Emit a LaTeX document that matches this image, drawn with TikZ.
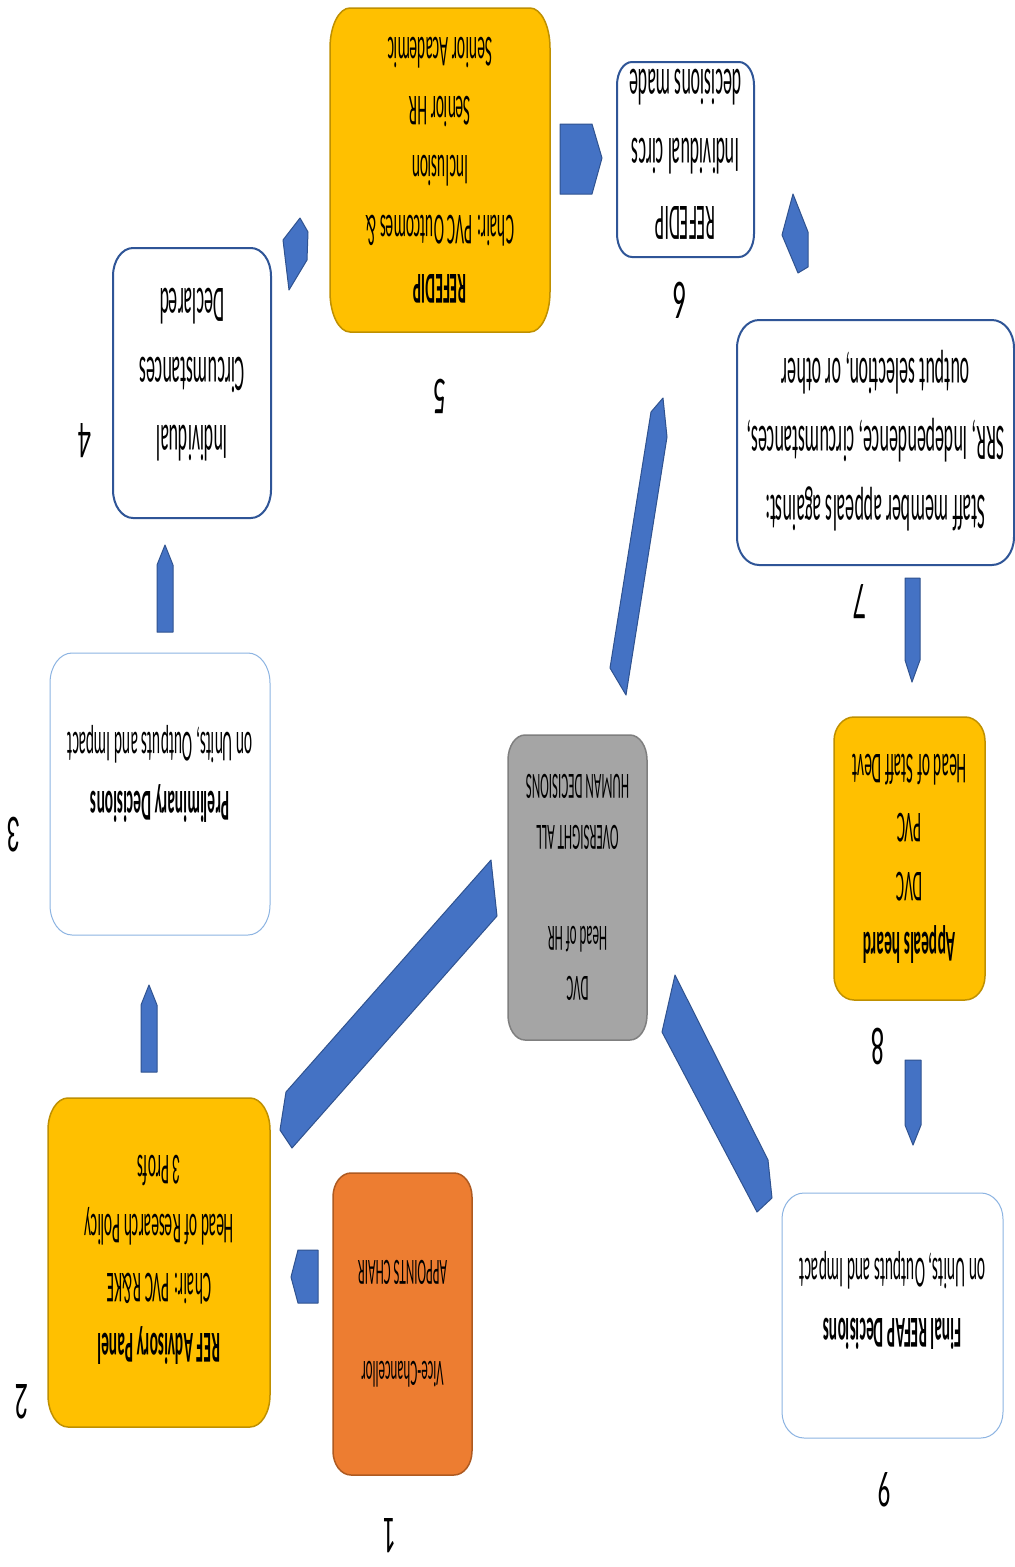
\documentclass[tikz,border=0pt]{standalone}
\usepackage{fontspec}
\setmainfont{Carlito}
\usetikzlibrary{fit,calc}

\definecolor{gold}{HTML}{FFC000}
\definecolor{goldline}{HTML}{BF9000}
\definecolor{orangefill}{HTML}{ED7D31}
\definecolor{orangeline}{HTML}{AE5A21}
\definecolor{grayfill}{HTML}{A5A5A5}
\definecolor{grayline}{HTML}{7F7F7F}
\definecolor{navyline}{HTML}{2F5597}
\definecolor{skyline}{HTML}{8DB4E2}
\definecolor{arrowfill}{HTML}{4472C4}
\definecolor{arrowline}{HTML}{2F528F}

\tikzset{
  goldbox/.style={fill=gold, draw=goldline, line width=1.5pt},
  orangebox/.style={fill=orangefill, draw=orangeline, line width=1.5pt},
  graybox/.style={fill=grayfill, draw=grayline, line width=1.5pt},
  navybox/.style={fill=white, draw=navyline, line width=2pt},
  skybox/.style={fill=white, draw=skyline, line width=1pt},
  flip/.style={xscale=-1, inner sep=0pt, align=center},
  txtM/.style={flip, yscale=-2.85, font=\fontsize{15.5}{20.8}\selectfont},
  txtL/.style={flip, yscale=-2.85, font=\fontsize{18}{24}\selectfont},
  txtS/.style={flip, yscale=-2.85, font=\fontsize{13}{17.7}\selectfont},
  num/.style={flip, yscale=-2.05, font=\fontsize{26}{30}\selectfont},
  blockarrow/.style={fill=arrowfill, draw=arrowline, line width=1pt, line join=round},
}

% \panel{name}{x1}{y1}{x2}{y2}{rx}{ry}{style}: box with elliptic corners
\newcommand\panel[8]{%
  \coordinate (#1-nw) at (#2,#3);
  \coordinate (#1-se) at (#4,#5);
  \node[inner sep=0pt, outer sep=0pt, fit=(#1-nw)(#1-se)] (#1) {};
  \draw[#8] ({#2+#6},#3) -- ({#4-#6},#3)
    arc[start angle=90, end angle=0, x radius=#6pt, y radius=#7pt]
    -- (#4,{#5-#7})
    arc[start angle=0, end angle=-90, x radius=#6pt, y radius=#7pt]
    -- ({#2+#6},#5)
    arc[start angle=-90, end angle=-180, x radius=#6pt, y radius=#7pt]
    -- (#2,{#3+#7})
    arc[start angle=180, end angle=90, x radius=#6pt, y radius=#7pt]
    -- cycle;
}

\begin{document}
\begin{tikzpicture}[x=1pt, y=-1pt]
\path[use as bounding box, fill=white] (0,0) rectangle (1015,1567);

% boxes
\panel{b1}{333}{1173}{472}{1475}{18}{24}{orangebox}
\panel{b2}{48}{1098}{270}{1427}{20}{32}{goldbox}
\panel{b3}{50}{653}{270}{935}{22}{30}{skybox}
\panel{b4}{113}{248}{271}{518}{20}{28}{navybox}
\panel{b5}{330}{8}{550}{332}{20}{40}{goldbox}
\panel{b6}{617}{62}{754}{257}{15}{23}{navybox}
\panel{b7}{737}{320}{1014}{565}{22}{28}{navybox}
\panel{b8}{834}{717}{985}{1000}{20}{24}{goldbox}
\panel{b9}{782}{1193}{1003}{1438}{22}{26}{skybox}
\panel{hub}{508}{735}{647}{1040}{17}{25}{graybox}

% block arrows
\draw[blockarrow] (318,1250) -- (298,1250) -- (291,1277) -- (298,1303) -- (318,1303) -- cycle;
\draw[blockarrow] (141,1072) -- (141,1005) -- (149,985) -- (157,1005) -- (157,1072) -- cycle;
\draw[blockarrow] (157,632) -- (157,565) -- (165,545) -- (173,565) -- (173,632) -- cycle;
\draw[blockarrow] (283,240) -- (300,218) -- (308,232) -- (307,260) -- (289,290) -- cycle;
\draw[blockarrow] (560,124) -- (592,124) -- (602,158) -- (592,194) -- (560,194) -- cycle;
\draw[blockarrow] (793,194) -- (808,232) -- (808,267) -- (798,273) -- (782,235) -- cycle;
\draw[blockarrow] (905,578) -- (920,578) -- (920,660) -- (912,682) -- (905,660) -- cycle;
\draw[blockarrow] (905,1060) -- (921,1060) -- (921,1125) -- (913,1145) -- (905,1125) -- cycle;
\draw[blockarrow] (662,1032) -- (675,975) -- (768,1160) -- (772,1198) -- (757,1212) -- cycle;
\draw[blockarrow] (491,860) -- (497,916) -- (292,1148) -- (280,1130) -- (286,1092) -- cycle;
\draw[blockarrow] (651,412) -- (663,398) -- (667,437) -- (626,695) -- (610,668) -- cycle;

% box texts
\node[txtS] (t1) at (b1) {Vice-Chancellor\\ \mbox{}\\ APPOINTS CHAIR};
\node[txtM] (t2) at ($(b2)+(0,-3)$) {\textbf{REF Advisory Panel}\\ Chair: PVC R\&KE\\ Head of Research Policy\\ 3 Profs};
\node[txtM] (t3) at ($(b3)+(0,-20)$) {\textbf{Preliminary Decisions}\\ on Units, Outputs and Impact};
\node[txtL] (t4) at ($(b4)+(0,-8)$) {Individual\\ Circumstances\\ Declared};
\node[txtM] (t5) at (b5) {\textbf{REFEDIP}\\ Chair: PVC Outcomes \&\\ Inclusion\\ Senior HR\\ Senior Academic};
\node[txtL] (t6) at ($(b6)+(0,-5)$) {REFEDIP\\ Individual circs\\ decisions made};
\node[txtL] (t7) at ($(b7)+(0,-2)$) {Staff member appeals against:\\ SRR, Independence, circumstances,\\ output selection, or other};
\node[txtM] (t8) at (b8) {\textbf{Appeals heard}\\ DVC\\ PVC\\ Head of Staff Devt};
\node[txtM] (t9) at ($(b9)+(0,-15)$) {\textbf{Final REFAP Decisions}\\ on Units, Outputs and Impact};
\node[txtS] (thub) at (hub) {DVC\\ Head of HR\\ \mbox{}\\ OVERSIGHT ALL\\ HUMAN DECISIONS};

% step numbers
\node[num] (n1) at (390,1536) {1};
\node[num] (n2) at (22,1402) {2};
\node[num] (n3) at (14,835) {3};
\node[num] (n4) at (85,441) {4};
\node[num] (n5) at (440,396) {5};
\node[num] (n6) at (680,300) {6};
\node[num] (n7) at (860,602) {7};
\node[num] (n8) at (878,1046) {8};
\node[num] (n9) at (885,1490) {9};
\end{tikzpicture}
\end{document}
